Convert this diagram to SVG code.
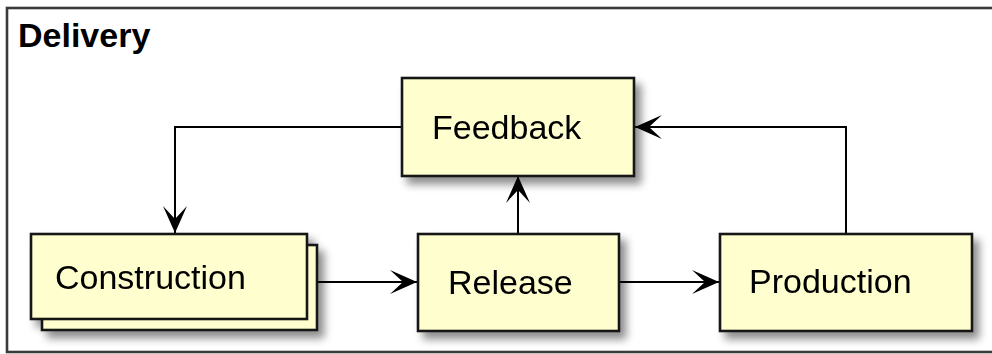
<svg xmlns="http://www.w3.org/2000/svg" width="992" height="354" viewBox="0 0 992 354">
<defs>
<style>
.box{fill:#FEFECE;stroke:#181818;stroke-width:2.6}
.lbl{font-family:"Liberation Sans",Arial,sans-serif;font-size:34px;fill:#000}
.edge{fill:none;stroke:#000;stroke-width:2}
.frame{fill:none;stroke:#3a3a3a;stroke-width:2.6}
</style>
<filter id="sh" x="-20%" y="-20%" width="150%" height="160%">
<feGaussianBlur in="SourceAlpha" stdDeviation="4"/>
<feOffset dx="6" dy="7" result="b"/>
<feComponentTransfer><feFuncA type="linear" slope="0.45"/></feComponentTransfer>
<feMerge><feMergeNode/><feMergeNode in="SourceGraphic"/></feMerge>
</filter>
<marker id="ah" viewBox="0 0 27 24" refX="27" refY="12" markerWidth="27" markerHeight="24" markerUnits="userSpaceOnUse" orient="auto">
<path d="M27,12 L0,0 L13,12 L0,24 Z" fill="#000"/>
</marker>
</defs>
<rect width="992" height="354" fill="#fff"/>
<g id="frame">
<rect class="frame" x="7" y="8" width="1000" height="344"/>
<text x="18" y="47" font-family="'Liberation Sans',Arial,sans-serif" font-size="34" font-weight="bold">Delivery</text>
</g>
<g id="connectors">
<path class="edge" d="M402,127 H175 V233" marker-end="url(#ah)"/>
<path class="edge" d="M317,282 H417" marker-end="url(#ah)"/>
<path class="edge" d="M619,282 H719" marker-end="url(#ah)"/>
<path class="edge" d="M518,234 V176" marker-end="url(#ah)"/>
<path class="edge" d="M846,234 V127 H635" marker-end="url(#ah)"/>
</g>
<g id="feedback" filter="url(#sh)">
<rect class="box" x="402" y="78" width="232" height="98"/>
<text class="lbl" x="432" y="139">Feedback</text>
</g>
<g id="construction" filter="url(#sh)">
<rect class="box" x="42" y="245" width="275" height="85"/>
<rect class="box" x="31" y="234" width="276" height="85"/>
<text class="lbl" x="55" y="289">Construction</text>
</g>
<g id="release" filter="url(#sh)">
<rect class="box" x="418" y="234" width="201" height="97"/>
<text class="lbl" x="448" y="294">Release</text>
</g>
<g id="production" filter="url(#sh)">
<rect class="box" x="720" y="234" width="252" height="97"/>
<text class="lbl" x="749" y="293">Production</text>
</g>
</svg>
